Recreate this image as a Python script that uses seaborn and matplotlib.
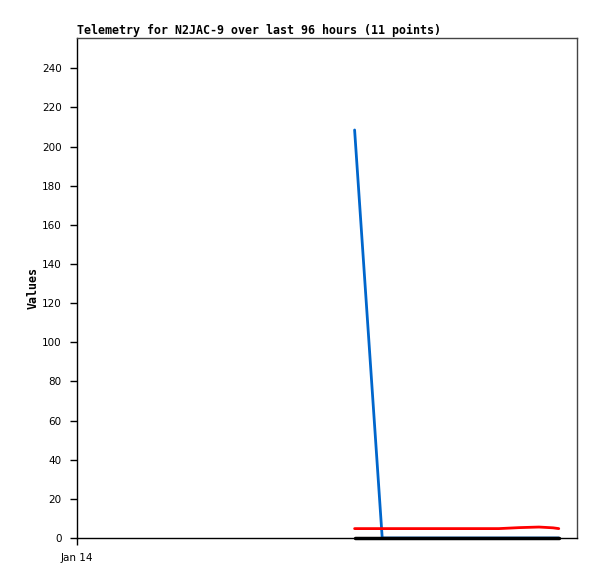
import pandas as pd
import matplotlib
matplotlib.use("Agg")
import matplotlib.pyplot as plt
import seaborn as sns

# hours since Jan 14 00:00 (96 hour window)
hours = [53.3, 58.6, 62.8, 67.6, 72.4, 77.2, 81.0, 84.9, 88.7, 91.4, 92.5]
chan_a = [208.5, 0, 0, 0, 0, 0, 0, 0, 0, 0, 0]
chan_b = [4.8, 4.8, 4.8, 4.8, 4.8, 4.8, 4.8, 5.3, 5.6, 5.2, 4.8]
chan_c = [0, 0, 0, 0, 0, 0, 0, 0, 0, 0, 0]
series = ["A", "B", "C"]
colors = {"A": "#0066cc", "B": "#ff0000", "C": "#000000"}

df = pd.concat([
    pd.DataFrame({"hour": hours, "value": chan_a, "series": "A"}),
    pd.DataFrame({"hour": hours, "value": chan_b, "series": "B"}),
    pd.DataFrame({"hour": hours, "value": chan_c, "series": "C"}),
])

sns.set_style("white")
plt.rcParams["text.color"] = "black"
fig = plt.figure(figsize=(5.97, 5.79), dpi=100)
ax = fig.add_axes([77/597, 1 - 538/579, 500/597, 500/579])

sns.lineplot(data=df, x="hour", y="value", hue="series", hue_order=series,
             palette=colors, linewidth=2, legend=False, ax=ax)
# zero-line series sits on the axis, draw it above the spine
ax.lines[2].set_clip_on(False)
ax.lines[2].set_zorder(5)
ax.lines[2].set_linewidth(2.5)

ax.set_xlim(0, 96)
ax.set_ylim(0, 255.5)
ax.set_yticks(range(0, 241, 20))
ax.set_xticks([0])
ax.set_xticklabels(["Jan 14"])
ax.tick_params(axis="both", direction="out", length=5, width=1, colors="black",
               labelcolor="black", labelsize=7.5, pad=6, left=True, bottom=True)
ax.set_xlabel("")
ax.set_ylabel("Values", family="DejaVu Sans Mono", fontweight="bold", fontsize=8.4,
              labelpad=2, color="black")
ax.set_title("Telemetry for N2JAC-9 over last 96 hours (11 points)", loc="left",
             family="DejaVu Sans Mono", fontweight="bold", fontsize=8.4, pad=3, color="black")

for side in ["left", "bottom"]:
    ax.spines[side].set_color("black")
for side in ["top", "right"]:
    ax.spines[side].set_color("#444444")
for s in ax.spines.values():
    s.set_linewidth(1)

fig.savefig("out.png", dpi=100)
